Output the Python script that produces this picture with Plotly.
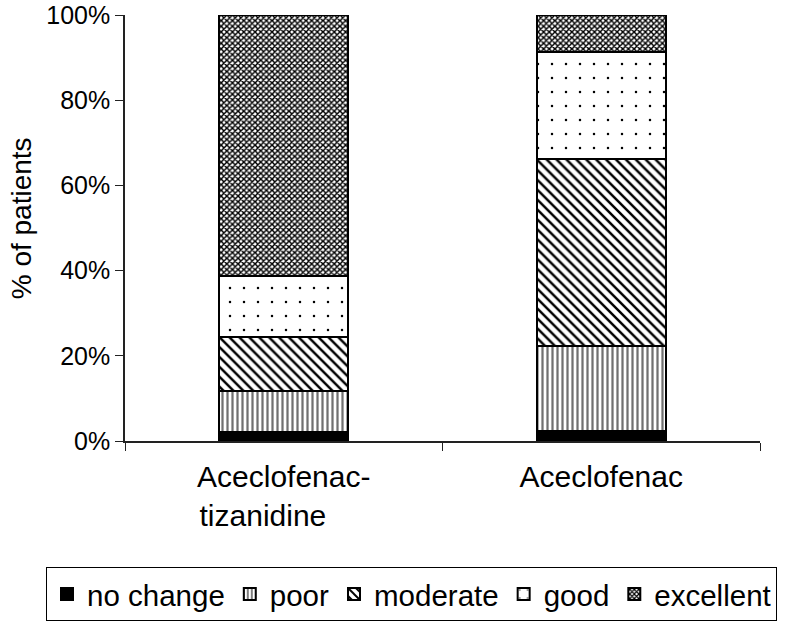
import plotly.graph_objects as go

categories = ["Aceclofenac-<br>tizanidine\u00a0\u00a0\u00a0\u00a0\u00a0", "Aceclofenac"]
no_change = [2.0, 2.3]
poor = [9.7, 19.9]
moderate = [12.6, 44.0]
good = [14.4, 25.2]
excellent = [61.3, 8.6]
y_ticks = [0, 20, 40, 60, 80, 100]
y_tick_labels = ["0%", "20%", "40%", "60%", "80%", "100%"]

series = [
    ("no change", no_change, dict(color="black")),
    ("poor", poor, dict(color="white", pattern=dict(shape="|", fgcolor="#707070", bgcolor="white", size=5, solidity=0.45, fillmode="replace"))),
    ("moderate", moderate, dict(color="white", pattern=dict(shape="\\", fgcolor="black", bgcolor="white", size=7, solidity=0.35, fillmode="replace"))),
    ("good", good, dict(color="white", pattern=dict(shape=".", fgcolor="black", bgcolor="white", size=14, solidity=0.025, fillmode="replace"))),
    ("excellent", excellent, dict(color="white", pattern=dict(shape="x", fgcolor="black", bgcolor="white", size=4, solidity=0.6, fillmode="replace"))),
]

FONT = "Liberation Sans, Arial, sans-serif"
fig = go.Figure()
for name, vals, marker in series:
    m = dict(marker)
    m["line"] = dict(color="black", width=2)
    fig.add_trace(go.Bar(name=name, x=categories, y=vals, marker=m, width=0.405,
                         cliponaxis=False))

fig.update_layout(
    barmode="stack",
    width=786, height=628,
    margin=dict(l=125, r=26, t=15, b=186.5, autoexpand=False),
    paper_bgcolor="white", plot_bgcolor="white",
    font=dict(family=FONT, color="black", size=25),
    showlegend=True,
    legend=dict(
        orientation="h", x=-0.1244, xanchor="left", y=-0.2966, yanchor="top",
        bordercolor="black", borderwidth=1, font=dict(size=29.5),
        traceorder="normal", itemsizing="constant",
    ),
    annotations=[dict(text="% of patients", xref="paper", yref="paper", x=-0.163, y=0.524,
                      xanchor="center", yanchor="middle", textangle=-90, showarrow=False,
                      font=dict(size=28, family=FONT))],
)
fig.update_yaxes(range=[0, 100], tickvals=y_ticks, ticktext=y_tick_labels,
                 showgrid=False, showline=True, linecolor="#222", linewidth=1.5,
                 ticks="outside", ticklen=8, tickcolor="#222", zeroline=False,
                 tickfont=dict(size=25), ticklabeloverflow="allow")
fig.update_xaxes(showgrid=False, showline=True, linecolor="#222", linewidth=1.5,
                 ticks="outside", ticklen=8, tickcolor="#222", tickson="boundaries",
                 tickfont=dict(size=30), range=[-0.5, 1.5], ticklabelstandoff=8)

# remove the browser's default 8px body margin so the 786x628 figure fills the window
fig.write_html("out.html", config={"displayModeBar": False},
               post_script="document.body.style.margin='0px';")
